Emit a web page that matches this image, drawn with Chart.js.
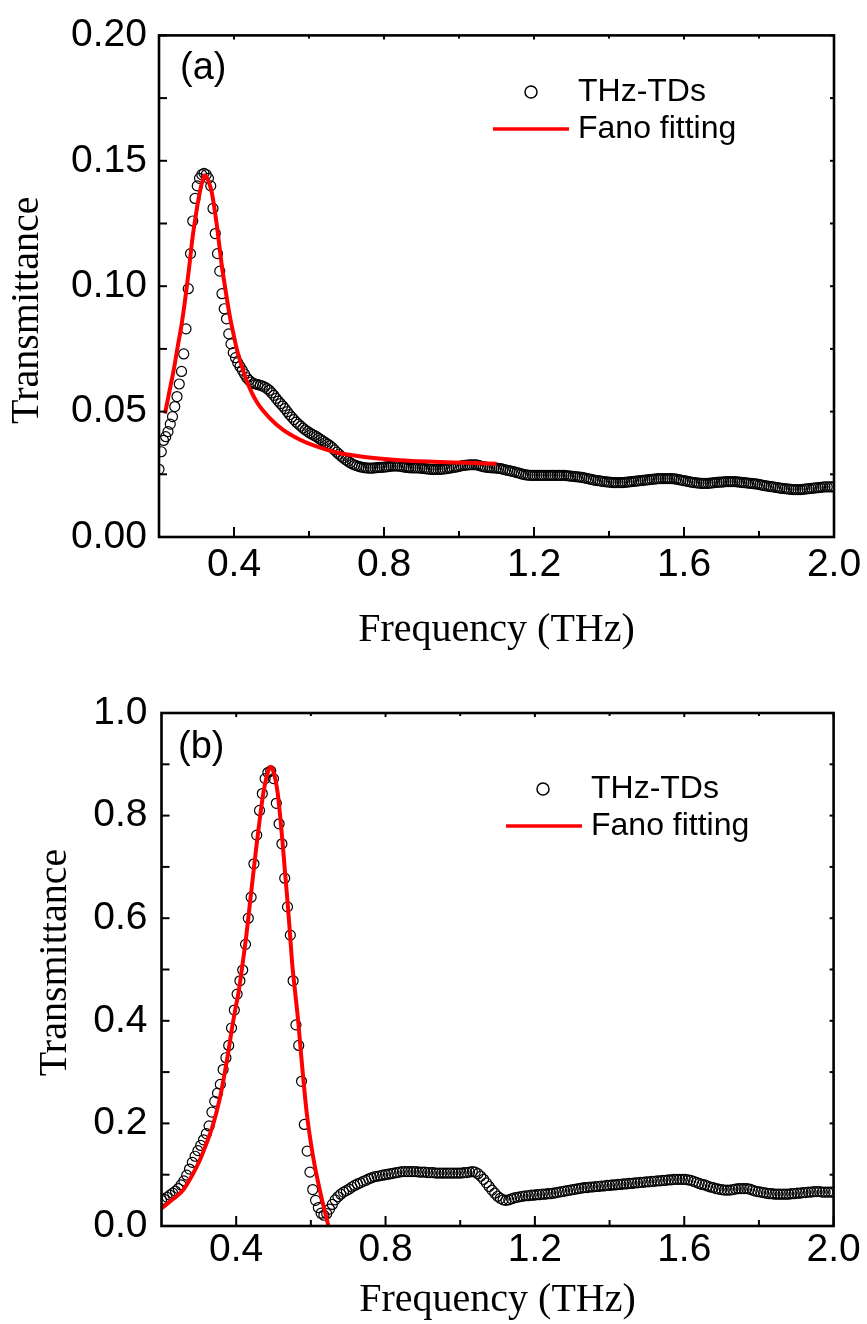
<!DOCTYPE html>
<html><head><meta charset="utf-8">
<script src="https://cdn.jsdelivr.net/npm/chart.js@4.4.1/dist/chart.umd.min.js"></script>
<style>
html,body{margin:0;padding:0;background:#fff;}
body{width:867px;height:1324px;position:relative;overflow:hidden;}
canvas{position:absolute;left:0;}
#ca{top:0;} #cb{top:660px;}
</style></head><body>
<canvas id="ca" width="867" height="660"></canvas>
<canvas id="cb" width="867" height="664"></canvas>
<script>
// ---------- Panel (a) measured data ----------
const freqA = [
0.200,0.206,0.212,0.218,0.224,0.230,0.236,0.242,0.248,0.254,
0.260,0.266,0.272,0.278,0.284,0.290,0.296,0.302,0.308,0.314,
0.320,0.326,0.332,0.338,0.344,0.350,0.356,0.362,0.368,0.374,
0.380,0.386,0.392,0.398,0.404,0.410,0.416,0.422,0.428,0.434,
0.440,0.446,0.452,0.458,0.464,0.470,0.476,0.482,0.488,0.494,
0.500,0.506,0.512,0.518,0.524,0.530,0.536,0.542,0.548,0.554,
0.560,0.566,0.572,0.578,0.584,0.590,0.596,0.602,0.608,0.614,
0.620,0.626,0.632,0.638,0.644,0.650,0.656,0.662,0.668,0.674,
0.680,0.686,0.692,0.698,0.704,0.710,0.716,0.722,0.728,0.734,
0.740,0.746,0.752,0.758,0.764,0.770,0.776,0.782,0.788,0.794,
0.800,0.806,0.812,0.818,0.824,0.830,0.836,0.842,0.848,0.854,
0.860,0.866,0.872,0.878,0.884,0.890,0.896,0.902,0.908,0.914,
0.920,0.926,0.932,0.938,0.944,0.950,0.956,0.962,0.968,0.974,
0.980,0.986,0.992,0.998,1.004,1.010,1.016,1.022,1.028,1.034,
1.040,1.046,1.052,1.058,1.064,1.070,1.076,1.082,1.088,1.094,
1.100,1.106,1.112,1.118,1.124,1.130,1.136,1.142,1.148,1.154,
1.160,1.166,1.172,1.178,1.184,1.190,1.196,1.202,1.208,1.214,
1.220,1.226,1.232,1.238,1.244,1.250,1.256,1.262,1.268,1.274,
1.280,1.286,1.292,1.298,1.304,1.310,1.316,1.322,1.328,1.334,
1.340,1.346,1.352,1.358,1.364,1.370,1.376,1.382,1.388,1.394,
1.400,1.406,1.412,1.418,1.424,1.430,1.436,1.442,1.448,1.454,
1.460,1.466,1.472,1.478,1.484,1.490,1.496,1.502,1.508,1.514,
1.520,1.526,1.532,1.538,1.544,1.550,1.556,1.562,1.568,1.574,
1.580,1.586,1.592,1.598,1.604,1.610,1.616,1.622,1.628,1.634,
1.640,1.646,1.652,1.658,1.664,1.670,1.676,1.682,1.688,1.694,
1.700,1.706,1.712,1.718,1.724,1.730,1.736,1.742,1.748,1.754,
1.760,1.766,1.772,1.778,1.784,1.790,1.796,1.802,1.808,1.814,
1.820,1.826,1.832,1.838,1.844,1.850,1.856,1.862,1.868,1.874,
1.880,1.886,1.892,1.898,1.904,1.910,1.916,1.922,1.928,1.934,
1.940,1.946,1.952,1.958,1.964,1.970,1.976,1.982,1.988,1.994,
2.000];
const tdsA = [
0.0270,0.0340,0.0385,0.0400,0.0420,0.0450,0.0480,0.0520,0.0560,0.0610,
0.0660,0.0730,0.0830,0.0990,0.1130,0.1260,0.1350,0.1400,0.1430,0.1445,
0.1450,0.1445,0.1430,0.1400,0.1310,0.1210,0.1130,0.1060,0.0970,0.0910,
0.0870,0.0810,0.0770,0.0735,0.0715,0.0695,0.0680,0.0665,0.0650,0.0635,
0.0625,0.0618,0.0612,0.0610,0.0608,0.0605,0.0602,0.0598,0.0592,0.0585,
0.0575,0.0565,0.0553,0.0542,0.0532,0.0522,0.0512,0.0500,0.0488,0.0478,
0.0468,0.0458,0.0450,0.0442,0.0434,0.0427,0.0421,0.0415,0.0410,0.0405,
0.0400,0.0394,0.0388,0.0382,0.0376,0.0370,0.0364,0.0356,0.0347,0.0338,
0.0330,0.0322,0.0315,0.0308,0.0302,0.0296,0.0291,0.0287,0.0284,0.0281,
0.0279,0.0277,0.0276,0.0275,0.0275,0.0275,0.0276,0.0277,0.0278,0.0278,
0.0279,0.0280,0.0281,0.0282,0.0283,0.0283,0.0283,0.0282,0.0281,0.0279,
0.0278,0.0277,0.0276,0.0276,0.0276,0.0276,0.0275,0.0274,0.0273,0.0272,
0.0271,0.0270,0.0270,0.0270,0.0270,0.0270,0.0271,0.0272,0.0273,0.0275,
0.0276,0.0278,0.0279,0.0281,0.0283,0.0285,0.0286,0.0287,0.0288,0.0288,
0.0288,0.0288,0.0286,0.0283,0.0281,0.0279,0.0278,0.0277,0.0276,0.0276,
0.0275,0.0274,0.0273,0.0270,0.0268,0.0266,0.0264,0.0262,0.0260,0.0257,
0.0255,0.0252,0.0250,0.0248,0.0247,0.0246,0.0246,0.0246,0.0246,0.0246,
0.0246,0.0246,0.0246,0.0246,0.0246,0.0246,0.0246,0.0246,0.0246,0.0246,
0.0246,0.0245,0.0244,0.0243,0.0242,0.0241,0.0240,0.0239,0.0238,0.0236,
0.0234,0.0232,0.0230,0.0228,0.0226,0.0225,0.0224,0.0222,0.0221,0.0220,
0.0219,0.0218,0.0217,0.0217,0.0217,0.0217,0.0217,0.0218,0.0219,0.0220,
0.0221,0.0222,0.0223,0.0224,0.0225,0.0226,0.0227,0.0228,0.0229,0.0230,
0.0231,0.0232,0.0233,0.0233,0.0233,0.0233,0.0233,0.0233,0.0233,0.0232,
0.0231,0.0229,0.0227,0.0225,0.0224,0.0222,0.0220,0.0218,0.0217,0.0216,
0.0215,0.0214,0.0214,0.0214,0.0214,0.0215,0.0216,0.0217,0.0218,0.0219,
0.0219,0.0220,0.0221,0.0221,0.0221,0.0221,0.0221,0.0220,0.0219,0.0218,
0.0217,0.0216,0.0215,0.0214,0.0213,0.0212,0.0211,0.0209,0.0207,0.0205,
0.0204,0.0202,0.0201,0.0200,0.0198,0.0197,0.0195,0.0194,0.0193,0.0192,
0.0191,0.0190,0.0189,0.0189,0.0189,0.0189,0.0190,0.0191,0.0192,0.0193,
0.0194,0.0195,0.0196,0.0197,0.0198,0.0199,0.0200,0.0200,0.0200,0.0200,
0.0200];
// ---------- Panel (a) Fano fit ----------
const fitFreqA = [0.216,0.225,0.238,0.250,0.260,0.270,0.280,0.290,0.300,0.309,0.316,0.322,0.328,0.334,0.341,0.354,0.367,0.380,0.389,0.400,0.407,0.420,0.434,0.460,0.496,0.531,0.576,0.620,0.674,0.754,0.843,0.931,1.020,1.100];
const fitA = [0.0492,0.0560,0.0656,0.0760,0.0845,0.0950,0.1070,0.1200,0.1300,0.1376,0.1420,0.1442,0.1432,0.1410,0.1372,0.1246,0.1088,0.0960,0.0879,0.0800,0.0752,0.0685,0.0622,0.0540,0.0473,0.0427,0.0388,0.0361,0.0337,0.0318,0.0306,0.0300,0.0296,0.0292];

// ---------- Panel (b) measured data ----------
const freqB = [
0.2000,0.2075,0.2150,0.2225,0.2300,0.2375,0.2450,0.2525,
0.2600,0.2675,0.2750,0.2825,0.2900,0.2975,0.3050,0.3125,
0.3200,0.3275,0.3350,0.3425,0.3500,0.3575,0.3650,0.3725,
0.3800,0.3875,0.3950,0.4025,0.4100,0.4175,0.4250,0.4325,
0.4400,0.4475,0.4550,0.4625,0.4700,0.4775,0.4850,0.4925,
0.5000,0.5075,0.5150,0.5225,0.5300,0.5375,0.5450,0.5525,
0.5600,0.5675,0.5750,0.5825,0.5900,0.5975,0.6050,0.6125,
0.6200,0.6275,0.6350,0.6425,0.6500,0.6575,0.6650,0.6725,
0.6800,0.6875,0.6950,0.7025,0.7100,0.7175,0.7250,0.7325,
0.7400,0.7475,0.7550,0.7625,0.7700,0.7775,0.7850,0.7925,
0.8000,0.8075,0.8150,0.8225,0.8300,0.8375,0.8450,0.8525,
0.8600,0.8675,0.8750,0.8825,0.8900,0.8975,0.9050,0.9125,
0.9200,0.9275,0.9350,0.9425,0.9500,0.9575,0.9650,0.9725,
0.9800,0.9875,0.9950,1.0025,1.0100,1.0175,1.0250,1.0325,
1.0400,1.0475,1.0550,1.0625,1.0700,1.0775,1.0850,1.0925,
1.1000,1.1075,1.1150,1.1225,1.1300,1.1375,1.1450,1.1525,
1.1600,1.1675,1.1750,1.1825,1.1900,1.1975,1.2050,1.2125,
1.2200,1.2275,1.2350,1.2425,1.2500,1.2575,1.2650,1.2725,
1.2800,1.2875,1.2950,1.3025,1.3100,1.3175,1.3250,1.3325,
1.3400,1.3475,1.3550,1.3625,1.3700,1.3775,1.3850,1.3925,
1.4000,1.4075,1.4150,1.4225,1.4300,1.4375,1.4450,1.4525,
1.4600,1.4675,1.4750,1.4825,1.4900,1.4975,1.5050,1.5125,
1.5200,1.5275,1.5350,1.5425,1.5500,1.5575,1.5650,1.5725,
1.5800,1.5875,1.5950,1.6025,1.6100,1.6175,1.6250,1.6325,
1.6400,1.6475,1.6550,1.6625,1.6700,1.6775,1.6850,1.6925,
1.7000,1.7075,1.7150,1.7225,1.7300,1.7375,1.7450,1.7525,
1.7600,1.7675,1.7750,1.7825,1.7900,1.7975,1.8050,1.8125,
1.8200,1.8275,1.8350,1.8425,1.8500,1.8575,1.8650,1.8725,
1.8800,1.8875,1.8950,1.9025,1.9100,1.9175,1.9250,1.9325,
1.9400,1.9475,1.9550,1.9625,1.9700,1.9775,1.9850,1.9925,
2.0000];
const tdsB = [
0.050,0.052,0.056,0.060,0.064,0.068,0.073,0.080,
0.088,0.099,0.111,0.124,0.136,0.147,0.157,0.168,
0.180,0.195,0.222,0.243,0.259,0.276,0.305,0.328,
0.352,0.386,0.421,0.452,0.478,0.499,0.549,0.600,
0.641,0.706,0.762,0.810,0.843,0.872,0.884,0.887,
0.872,0.824,0.784,0.745,0.678,0.622,0.567,0.478,
0.392,0.352,0.282,0.198,0.146,0.105,0.071,0.050,
0.036,0.025,0.021,0.024,0.033,0.042,0.051,0.057,
0.062,0.066,0.069,0.072,0.076,0.079,0.082,0.084,
0.087,0.089,0.092,0.094,0.096,0.097,0.098,0.099,
0.100,0.101,0.102,0.103,0.104,0.105,0.106,0.106,
0.106,0.106,0.106,0.106,0.105,0.105,0.105,0.104,
0.104,0.104,0.103,0.103,0.103,0.103,0.103,0.103,
0.103,0.103,0.103,0.103,0.104,0.104,0.105,0.106,
0.105,0.102,0.097,0.091,0.084,0.077,0.070,0.064,
0.058,0.054,0.051,0.050,0.051,0.053,0.055,0.056,
0.057,0.058,0.059,0.059,0.060,0.060,0.061,0.061,
0.062,0.062,0.063,0.063,0.064,0.065,0.066,0.067,
0.068,0.069,0.070,0.071,0.072,0.073,0.074,0.075,
0.075,0.076,0.076,0.077,0.077,0.078,0.078,0.079,
0.079,0.080,0.080,0.081,0.081,0.082,0.082,0.083,
0.083,0.084,0.084,0.085,0.085,0.086,0.086,0.087,
0.087,0.088,0.088,0.089,0.089,0.090,0.090,0.091,
0.091,0.091,0.091,0.091,0.090,0.089,0.087,0.085,
0.083,0.081,0.080,0.078,0.076,0.075,0.073,0.072,
0.071,0.070,0.070,0.070,0.071,0.072,0.073,0.073,
0.073,0.073,0.072,0.070,0.068,0.067,0.066,0.065,
0.064,0.063,0.063,0.062,0.062,0.062,0.062,0.062,
0.062,0.063,0.063,0.064,0.064,0.065,0.065,0.066,
0.066,0.067,0.067,0.067,0.066,0.066,0.066,0.066,
0.066];
// ---------- Panel (b) Fano fit ----------
const fitFreqB = [0.200,0.230,0.258,0.280,0.303,0.320,0.339,0.355,0.366,0.378,0.388,0.397,0.406,0.417,0.428,0.437,0.446,0.455,0.464,0.473,0.482,0.488,0.493,0.498,0.504,0.511,0.517,0.524,0.531,0.538,0.544,0.550,0.557,0.566,0.575,0.589,0.606,0.624,0.647];
const fitB = [0.034,0.052,0.070,0.096,0.129,0.160,0.200,0.245,0.285,0.335,0.382,0.420,0.454,0.510,0.571,0.630,0.688,0.745,0.798,0.845,0.877,0.891,0.895,0.890,0.874,0.845,0.805,0.750,0.688,0.628,0.571,0.512,0.462,0.400,0.325,0.220,0.135,0.070,0.000];

// ---------- Ticks & labels ----------
const xTickValues = [0.4, 0.8, 1.2, 1.6, 2.0];
const xMinorValues = [0.6, 1.0, 1.4, 1.8];
const yTicksA = [0.00, 0.05, 0.10, 0.15, 0.20];
const yMinorA = [0.025, 0.075, 0.125, 0.175];
const yTicksB = [0.0, 0.2, 0.4, 0.6, 0.8, 1.0];
const yMinorB = [0.1, 0.3, 0.5, 0.7, 0.9];
const legendLabels = ['THz-TDs', 'Fano fitting'];
const panelLabels = ['(a)', '(b)'];
const xTitle = 'Frequency (THz)';
const yTitle = 'Transmittance';

const SANS = '"Liberation Sans", Arial, Helvetica, sans-serif';
const SERIF = '"Liberation Serif", "Times New Roman", serif';

function pairs(xs, ys) {
  const n = Math.min(xs.length, ys.length), out = [];
  for (let i = 0; i < n; i++) out.push({x: xs[i], y: ys[i]});
  return out;
}

const decor = {
  id: 'decor',
  afterDraw(chart, args, o) {
    const ctx = chart.ctx, a = chart.chartArea, xs = chart.scales.x, ys = chart.scales.y;
    const seg = (x1, y1, x2, y2) => { ctx.beginPath(); ctx.moveTo(x1, y1); ctx.lineTo(x2, y2); ctx.stroke(); };
    ctx.save();
    ctx.strokeStyle = '#000';
    ctx.lineWidth = 2;
    o.xMajor.forEach(v => { const p = xs.getPixelForValue(v); seg(p, a.bottom, p, a.bottom - 10); seg(p, a.top, p, a.top + 4); });
    o.xMinor.forEach(v => { const p = xs.getPixelForValue(v); seg(p, a.bottom, p, a.bottom - 6); seg(p, a.top, p, a.top + 3); });
    o.yMajor.concat(o.yMinor).forEach(v => { const p = ys.getPixelForValue(v); seg(a.left, p, a.left + 8, p); seg(a.right, p, a.right - 4, p); });
    ctx.lineWidth = 2.6;
    ctx.strokeRect(a.left, a.top, a.right - a.left, a.bottom - a.top);
    ctx.fillStyle = '#000';
    ctx.textAlign = 'left';
    ctx.textBaseline = 'middle';
    ctx.font = '38px ' + SANS;
    ctx.fillText(o.panel, o.panelX, o.panelY);
    // legend
    ctx.font = '32px ' + SANS;
    ctx.lineWidth = 1.5;
    ctx.beginPath(); ctx.arc(o.legCircle[0], o.legCircle[1], 6, 0, Math.PI * 2); ctx.stroke();
    ctx.fillText(legendLabels[0], o.legTextX, o.legCircle[1]);
    ctx.strokeStyle = '#ff0000'; ctx.lineWidth = 3.5;
    seg(o.legLine[0], o.legLine[2], o.legLine[1], o.legLine[2]);
    ctx.fillText(legendLabels[1], o.legTextX, o.legLine[2]);
    // axis titles
    ctx.font = '40px ' + SERIF;
    ctx.textAlign = 'center';
    ctx.fillText(xTitle, (a.left + a.right) / 2, a.bottom + o.xTitleDy);
    ctx.translate(o.yTitleX, (a.top + a.bottom) / 2 + o.yTitleDy);
    ctx.rotate(-Math.PI / 2);
    ctx.fillText(yTitle, 0, 0);
    ctx.restore();
  }
};

function makeChart(id, c) {
  return new Chart(document.getElementById(id), {
    type: 'scatter',
    data: {datasets: [
      {label: legendLabels[1], data: pairs(c.fitX, c.fitY), showLine: true, borderColor: '#ff0000', borderWidth: 4,
       pointRadius: 0, fill: false, cubicInterpolationMode: 'monotone', order: 0},
      {label: legendLabels[0], data: pairs(c.x, c.y), showLine: false, pointStyle: 'circle', pointRadius: 5,
       pointBorderWidth: 1.2, pointBorderColor: '#000', pointBackgroundColor: 'rgba(0,0,0,0)',
       borderColor: '#000', backgroundColor: 'rgba(0,0,0,0)', order: 1}
    ]},
    options: {
      responsive: false, animation: false, devicePixelRatio: 1,
      layout: {padding: {top: c.padTop, right: c.padRight, bottom: 0, left: 0}},
      plugins: {legend: {display: false}, tooltip: {enabled: false}, decor: c.decor},
      scales: {
        x: {type: 'linear', min: 0.2, max: 2.0,
            grid: {display: false, drawTicks: false}, border: {display: false},
            afterBuildTicks: s => { s.ticks = xTickValues.map(v => ({value: v})); },
            ticks: {font: {family: SANS, size: 39}, color: '#000', padding: c.xPad, maxRotation: 0, autoSkip: false,
                    callback: v => Number(v).toFixed(1)},
            afterFit: s => { s.height = c.xH; }},
        y: {type: 'linear', min: c.yMin, max: c.yMax,
            grid: {display: false, drawTicks: false}, border: {display: false},
            afterBuildTicks: s => { s.ticks = c.yTicks.map(v => ({value: v})); },
            ticks: {font: {family: SANS, size: 39}, color: '#000', padding: c.yPad, autoSkip: false,
                    callback: v => Number(v).toFixed(c.yDec)},
            afterFit: s => { s.width = c.yW; }}
      }
    },
    plugins: [decor]
  });
}

makeChart('ca', {
  x: freqA, y: tdsA, fitX: fitFreqA, fitY: fitA,
  yMin: 0, yMax: 0.2, yTicks: yTicksA, yDec: 2,
  padTop: 28, padRight: 33, xH: 123, yW: 159, xPad: 5, yPad: 12,
  decor: {xMajor: xTickValues, xMinor: xMinorValues, yMajor: yTicksA, yMinor: yMinorA,
          panel: panelLabels[0], panelX: 180, panelY: 69,
          legCircle: [531, 92], legTextX: 578, legLine: [493, 569, 129],
          xTitleDy: 93, yTitleX: 27, yTitleDy: 24}
});
makeChart('cb', {
  x: freqB, y: tdsB, fitX: fitFreqB, fitY: fitB,
  yMin: 0, yMax: 1.0, yTicks: yTicksB, yDec: 1,
  padTop: 53, padRight: 33.4, xH: 98, yW: 161.5, xPad: 1, yPad: 14,
  decor: {xMajor: xTickValues, xMinor: xMinorValues, yMajor: yTicksB, yMinor: yMinorB,
          panel: panelLabels[1], panelX: 178, panelY: 88,
          legCircle: [543, 129], legTextX: 591, legLine: [506, 582, 166],
          xTitleDy: 74, yTitleX: 55, yTitleDy: -7}
});
</script>
</body></html>
